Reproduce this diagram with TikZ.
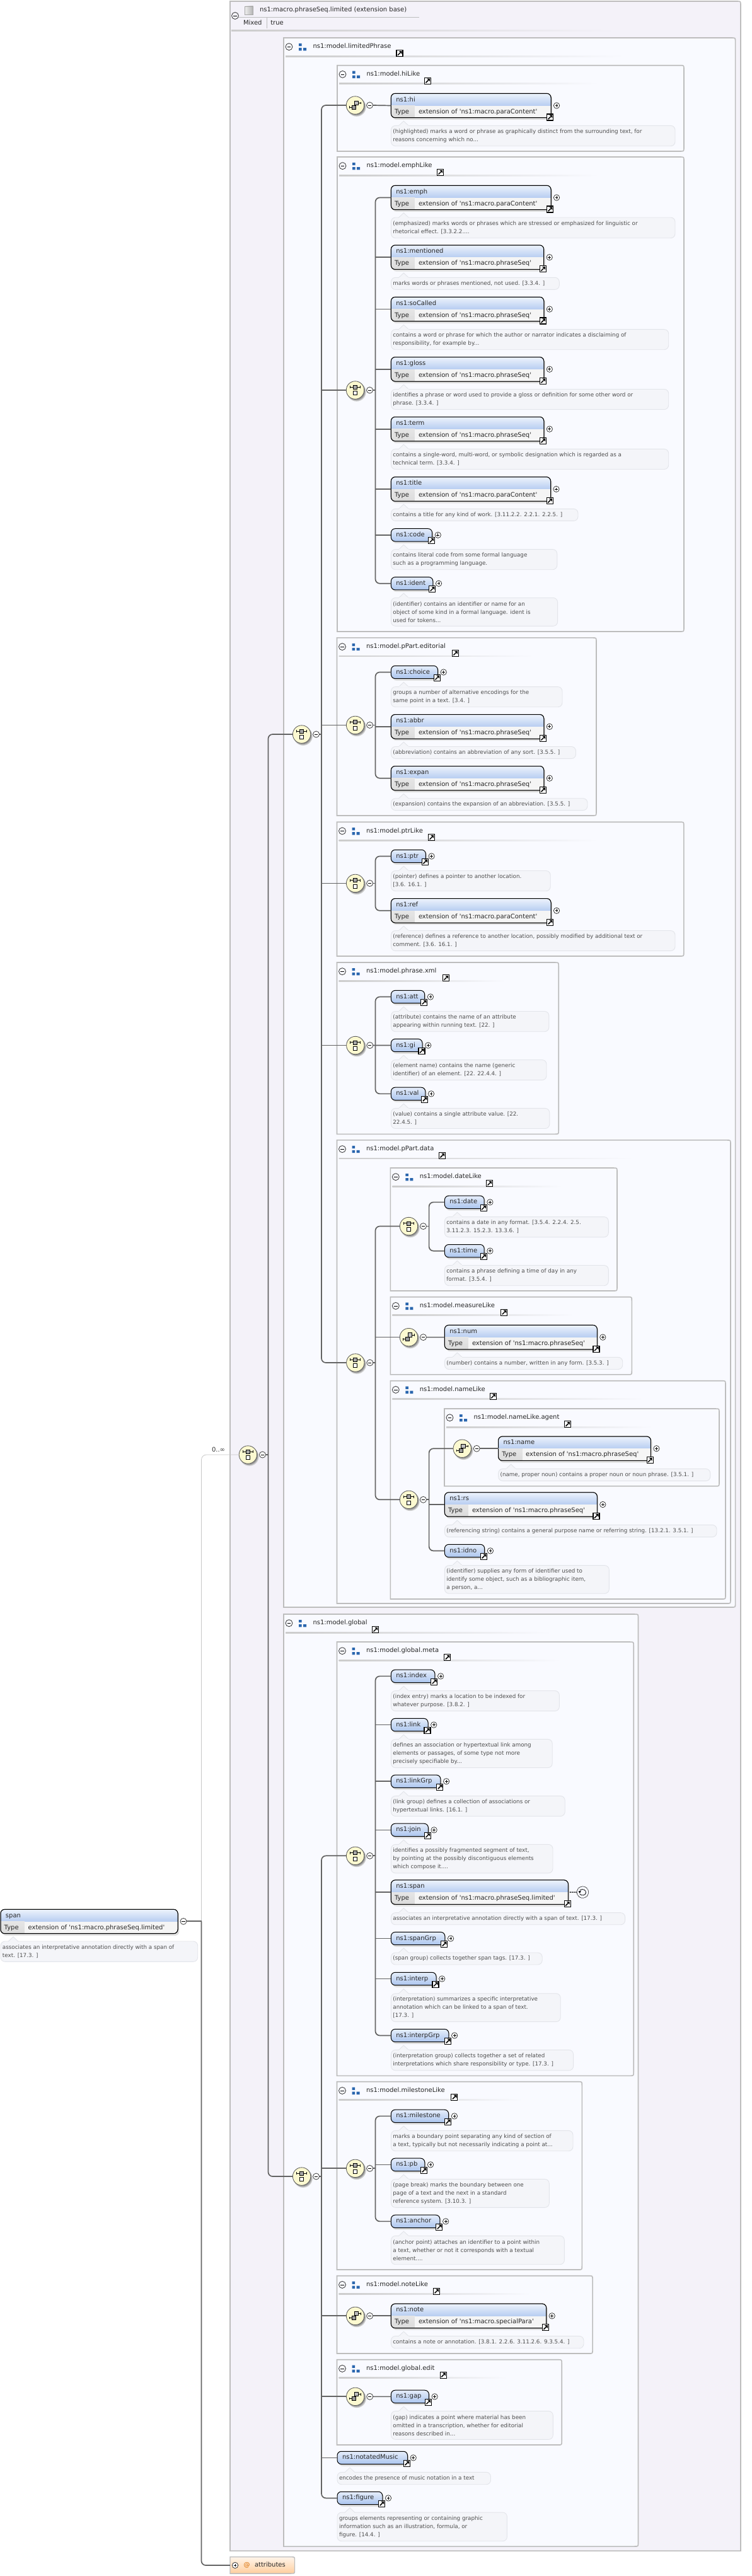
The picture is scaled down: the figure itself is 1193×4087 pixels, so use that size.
\documentclass[tikz,border=0pt]{standalone}
\usepackage{fontspec}
\setmainfont{DejaVu Sans}[Ligatures=TeXOff]
\definecolor{outerFill}{HTML}{F4F2F9}
\definecolor{grpFill}{HTML}{F9FAFF}
\definecolor{grpLine}{HTML}{BDBDBD}
\definecolor{connCol}{HTML}{636363}
\definecolor{hdTop}{HTML}{EDF3FC}
\definecolor{hdBot}{HTML}{B7CDF1}
\definecolor{smTop}{HTML}{E6EEFB}
\definecolor{smBot}{HTML}{ABC5EE}
\definecolor{descFill}{HTML}{F4F5F9}
\definecolor{descLine}{HTML}{E3E5EA}
\definecolor{descText}{HTML}{4D4D4D}
\definecolor{symFill}{HTML}{FCF9D0}
\definecolor{blockCol}{HTML}{2A66AE}
\newcommand\lblfont{\fontsize{10}{13}\selectfont}
\newcommand\dscfont{\fontsize{8.75}{13}\selectfont}
\tikzset{
  cn/.style={draw=connCol,line width=1.7},
  grpbox/.style={draw=grpLine,line width=1.6,fill=grpFill},
  lbl/.style={font=\lblfont,text=black!85,inner sep=0,outer sep=0,anchor=mid west},
  dsc/.style={font=\dscfont,text=descText,inner sep=0,outer sep=0,anchor=west,align=left},
  elembox/.style={rounded corners=6.5,draw=black,line width=1,inner sep=0,outer sep=0},
  bubble/.style={rounded corners=7,draw=descLine,line width=.9,fill=descFill,inner sep=0,outer sep=0},
  plusic/.style={circle,draw=black!85,line width=.7,fill=white,inner sep=0,outer sep=0,minimum size=9.4},
  minusic/.style={circle,draw=black!75,line width=.8,fill=white,inner sep=0,outer sep=0,minimum size=10},
  collic/.style={circle,draw=black!80,line width=.8,inner sep=0,outer sep=0,minimum size=11},
  linkic/.style={draw=black,fill=white,line width=1.1,inner sep=0,outer sep=0,minimum size=10},
  symb/.style={circle,draw=black!65,line width=.8,fill=symFill,inner sep=0,outer sep=0,minimum size=28.4},
}
% link icon: id, x, y
\newcommand\xLink[3]{%
  \node[linkic] (#1) at (#2,#3) {};
  \draw[line width=1.5,black] (#2-3,#3+3) -- (#2+1,#3-1);
  \fill[black] (#2+3.6,#3-3.6) -- (#2-1.2,#3-3.6) -- (#2+3.6,#3+1.2) -- cycle;
}
\newcommand\xPlus[3]{%
  \node[plusic] (#1) at (#2,#3) {};
  \draw[line width=.7,black] (#2-2.4,#3) -- (#2+2.4,#3) (#2,#3-2.4) -- (#2,#3+2.4);
}
\newcommand\xMinus[3]{%
  \node[minusic] (#1) at (#2,#3) {};
  \draw[line width=.8,black] (#2-2.6,#3) -- (#2+2.6,#3);
}
% group: id, title, l, t, r, b, linkx
\newcommand\xG[7]{%
  \path[grpbox] (#3,#4) -- (#5-6,#4) .. controls (#5,#4) .. (#5,#4+6) -- (#5,#6-6) .. controls (#5,#6) .. (#5-6,#6) -- (#3,#6) -- cycle;
  \shade[left color=black!20,right color=grpFill] (#3+3,#4+28.2) rectangle ({#3+3+0.75*(#5-#3)},#4+30);
  \node[collic] (#1-c) at (#3+8.5,#4+14.2) {};
  \draw[line width=.8,black] (#3+5.6,#4+14.2) -- (#3+11.4,#4+14.2);
  \fill[blockCol] (#3+24,#4+9) rectangle (#3+28.5,#4+13.2) (#3+24,#4+16) rectangle (#3+28.5,#4+20.3) (#3+31,#4+16) rectangle (#3+36,#4+20.3);
  \node[lbl] (#1-t) at (#3+46.5,#4+14.2) {#2};
  \xLink{#1-l}{#7}{#4+24.6}
}
% symbols: id, x, y
\newcommand\xDisc[3]{%
  \fill[black!20] (#2+2.2,#3+2.8) circle (15);
  \fill[black!40] (#2+1.6,#3+2) circle (14.2);
  \node[symb] (#1) at (#2,#3) {};
  \xMinus{#1-m}{#2+23}{#3}
}
\newcommand\xSeq[3]{%
  \xDisc{#1}{#2}{#3}
  \draw[line width=.9,black] (#2-8,#3-4.6) -- (#2+8,#3-4.6) (#2-8,#3-6.6) -- (#2-8,#3-2.6) (#2+8,#3-6.6) -- (#2+8,#3-2.6);
  \draw[line width=.8,black,fill=black!35] (#2-3,#3-7.6) rectangle (#2+3,#3-1.6);
  \draw[line width=.8,black,fill=white] (#2-3,#3+1.6) rectangle (#2+3,#3+7.6);
}
\newcommand\xCho[3]{%
  \xDisc{#1}{#2}{#3}
  \draw[line width=.9,black] (#2-9,#3+3.2) -- (#2-3,#3+3.2) (#2+3,#3-3.6) -- (#2+9,#3-3.6) (#2-9,#3+1.4) -- (#2-9,#3+5) (#2+9,#3-5.4) -- (#2+9,#3-1.8);
  \draw[line width=.8,black,fill=black!25] (#2-1.4,#3-6.8) rectangle (#2+4.8,#3-.6);
  \draw[line width=.8,black,fill=black!40] (#2-5.2,#3) rectangle (#2+1,#3+6.2);
}
\def\eL{620.4}
% typed element box alone: id, label, type, top, r
\newcommand\xEB[5]{%
  \fill[black!28,rounded corners=6.5] (\eL+1.4,#4+2.2) rectangle (#5+1.6,#4+40.6);
  \fill[black!12,rounded corners=6.5] (\eL+2,#4+3) rectangle (#5+2.4,#4+41.6);
  \pgfmathsetmacro{\eW}{#5-\eL}
  \node[elembox,fill=white,minimum width=\eW,minimum height=38.4] (#1) at ({(#5+\eL)/2},#4+19.2) {};
  \begin{scope}
    \clip[rounded corners=6.5] (\eL,#4) rectangle (#5,#4+38.4);
    \shade[top color=hdTop,bottom color=hdBot] (\eL,#4) rectangle (#5,#4+19.4);
    \shade[top color=white!90!black,bottom color=black!14] (\eL,#4+19.4) rectangle (\eL+38,#4+38.4);
    \fill[black!4] (\eL+38,#4+19.4) rectangle (#5,#4+38.4);
  \end{scope}
  \draw[black,line width=1,rounded corners=6.5] (\eL,#4) rectangle (#5,#4+38.4);
  \node[lbl] (#1-t) at (\eL+8,#4+10) {#2};
  \node[lbl] (#1-k) at (\eL+5.7,#4+29) {Type};
  \node[lbl] (#1-v) at (\eL+43.6,#4+29) {#3};
}
% typed element with plus and link icons
\newcommand\xET[5]{%
  \xEB{#1}{#2}{#3}{#4}{#5}
  \xPlus{#1-p}{#5+9}{#4+19.2}
  \xLink{#1-l}{#5-1.3}{#4+37.7}
}
% small element: id, label, top, r
\newcommand\xES[4]{%
  \fill[black!28,rounded corners=6.5] (\eL+1.4,#3+2.2) rectangle (#4+1.6,#3+22.5);
  \fill[black!12,rounded corners=6.5] (\eL+2,#3+3) rectangle (#4+2.4,#3+23.5);
  \pgfmathsetmacro{\eW}{#4-\eL}
  \node[elembox,top color=smTop,bottom color=smBot,minimum width=\eW,minimum height=20.3] (#1) at ({(#4+\eL)/2},#3+10.15) {};
  \node[lbl] (#1-t) at (\eL+8,#3+10) {#2};
  \xPlus{#1-p}{#4+9.2}{#3+10.15}
  \xLink{#1-l}{#4-1}{#3+19}
}
% description: id, top, bottom, r, text
\newcommand\xD[5]{%
  \pgfmathsetmacro{\eW}{#4-\eL}
  \pgfmathsetmacro{\eH}{#3-#2}
  \node[bubble,minimum width=\eW,minimum height=\eH] (#1-d) at ({(#4+\eL)/2},{(#2+#3)/2}) {};
  \path[fill=descFill,draw=descLine,line width=.9] (\eL+12,#2+.3) -- (\eL+20,#2-7.2) -- (\eL+28,#2+.3);
  \fill[descFill] (\eL+12.6,#2+.8) rectangle (\eL+27.4,#2-.2);
  \node[dsc] (#1-x) at (\eL+3,{(#2+#3)/2}) {#5};
}
\begin{document}
\begin{tikzpicture}[x=1pt,y=-1pt]
\useasboundingbox (0,0) rectangle (1193,4087);
\fill[white] (0,0) rectangle (1193,4087);
% ---------- outer extension box
\path[draw=grpLine,line width=1.6,fill=outerFill] (365,2) -- (1169,2) .. controls (1175,2) .. (1175,8) -- (1175,4047) -- (365,4047) -- cycle;
\node[collic] (base-c) at (373,25) {};
\draw[line width=.8,black] (370,25) -- (376,25);
\draw[draw=black!35,line width=.9,left color=black!6,right color=black!30] (388.3,10) rectangle (401.5,23);
\node[lbl] (base-t) at (412,16) {ns1:macro.phraseSeq.limited (extension base)};
\draw[grpLine,line width=.9] (378,27.7) -- (665,27.7);
\node[lbl] (base-k) at (386,36.3) {Mixed};
\draw[grpLine,line width=.7] (423.3,28) -- (423.3,45);
\node[lbl] (base-v) at (429.3,36.3) {true};
\shade[left color=black!20,right color=outerFill] (367,48) rectangle (976,50);
% ---------- groups
\xG{gLP}{ns1:model.limitedPhrase}{450}{60}{1166.6}{2550}{634}
\xG{gHi}{ns1:model.hiLike}{535}{103.7}{1085}{240}{678.5}
\xG{gEm}{ns1:model.emphLike}{535}{249}{1085}{1002}{698.5}
\xG{gEd}{ns1:model.pPart.editorial}{534.5}{1011.9}{946}{1294}{722.3}
\xG{gPt}{ns1:model.ptrLike}{534.5}{1304.2}{1084.8}{1517}{684.5}
\xG{gXm}{ns1:model.phrase.xml}{534.5}{1527}{886.2}{1799.3}{707.5}
\xG{gDa}{ns1:model.pPart.data}{534.5}{1808.9}{1159}{2544}{701.5}
\xG{gDt}{ns1:model.dateLike}{619.3}{1853}{979}{2048}{776.5}
\xG{gMs}{ns1:model.measureLike}{619.3}{2057.7}{1002.3}{2180.9}{799.8}
\xG{gNm}{ns1:model.nameLike}{619.3}{2190.7}{1151}{2537}{782.3}
\xG{gAg}{ns1:model.nameLike.agent}{705}{2235}{1141}{2357.9}{900.6}
\xG{gGl}{ns1:model.global}{450}{2561}{1012.5}{4040}{595.5}
\xG{gMe}{ns1:model.global.meta}{534.5}{2605}{1005.2}{3293.3}{709.8}
\xG{gMi}{ns1:model.milestoneLike}{534.5}{3302.7}{923.3}{3601}{720.9}
\xG{gNo}{ns1:model.noteLike}{534.5}{3610.7}{940.1}{3734}{692.5}
\xG{gEt}{ns1:model.global.edit}{534.5}{3743.7}{891.2}{3879}{703.2}
% ---------- root element
\def\eL{1}
\xEB{rootspan}{span}{extension of 'ns1:macro.phraseSeq.limited'}{3029.3}{282}
\xD{rootspan}{3080}{3112.3}{313.7}{associates an interpretative annotation directly with a span of\\text. [17.3. ]}
\xMinus{rootspan-m}{291}{3048.3}
% ---------- symbols
\xSeq{sRoot}{393.4}{2308}
\xSeq{sLP}{478.6}{1165}
\xSeq{sGL}{478.6}{3453}
\xCho{sHi}{563.5}{167}
\xSeq{sEm}{563.5}{619}
\xSeq{sEd}{563.6}{1150.4}
\xSeq{sPt}{563.6}{1401.4}
\xSeq{sXm}{563.8}{1658.5}
\xSeq{sDa}{563.8}{2162}
\xSeq{sDt}{648.5}{1945.5}
\xCho{sMs}{648.5}{2121.6}
\xSeq{sNm}{648.5}{2379.3}
\xCho{sAg}{733.2}{2298.2}
\xSeq{sMe}{563.6}{2944.3}
\xSeq{sMi}{563.6}{3440.3}
\xCho{sNo}{563.6}{3674.3}
\xCho{sEt}{563.7}{3802.3}
% ---------- elements: hiLike, emphLike
\def\eL{620.4}
\xET{hi}{ns1:hi}{extension of 'ns1:macro.paraContent'}{148.3}{874}
\xD{hi}{199.3}{231.7}{1071}{(highlighted) marks a word or phrase as graphically distinct from the surrounding text, for\\reasons concerning which no...}
\xET{emph}{ns1:emph}{extension of 'ns1:macro.paraContent'}{294.3}{874}
\xD{emph}{345}{377.7}{1071}{(emphasized) marks words or phrases which are stressed or emphasized for linguistic or\\rhetorical effect. [3.3.2.2....}
\xET{mentioned}{ns1:mentioned}{extension of 'ns1:macro.phraseSeq'}{389}{862.7}
\xD{mentioned}{440.3}{459.4}{887.3}{marks words or phrases mentioned, not used. [3.3.4. ]}
\xET{soCalled}{ns1:soCalled}{extension of 'ns1:macro.phraseSeq'}{471.3}{862.8}
\xD{soCalled}{522.6}{554.7}{1060.7}{contains a word or phrase for which the author or narrator indicates a disclaiming of\\responsibility, for example by...}
\xET{gloss}{ns1:gloss}{extension of 'ns1:macro.phraseSeq'}{566.6}{862.8}
\xD{gloss}{617.5}{649.6}{1060.7}{identifies a phrase or word used to provide a gloss or definition for some other word or\\phrase. [3.3.4. ]}
\xET{term}{ns1:term}{extension of 'ns1:macro.phraseSeq'}{661.5}{862.8}
\xD{term}{712.4}{744.5}{1060.7}{contains a single-word, multi-word, or symbolic designation which is regarded as a\\technical term. [3.3.4. ]}
\xET{title}{ns1:title}{extension of 'ns1:macro.paraContent'}{756.8}{873.5}
\xD{title}{807.3}{826.4}{917}{contains a title for any kind of work. [3.11.2.2. 2.2.1. 2.2.5. ]}
\xES{code}{ns1:code}{838.7}{685.6}
\xD{code}{871.6}{903.7}{883.8}{contains literal code from some formal language\\such as a programming language.}
\xES{ident}{ns1:ident}{915.6}{686.8}
\xD{ident}{948.5}{993.3}{884.6}{(identifier) contains an identifier or name for an\\object of some kind in a formal language. ident is\\used for tokens...}
% editorial
\xES{choice}{ns1:choice}{1056.3}{694.5}
\xD{choice}{1089.6}{1121.7}{892}{groups a number of alternative encodings for the\\same point in a text. [3.4. ]}
\xET{abbr}{ns1:abbr}{extension of 'ns1:macro.phraseSeq'}{1133.6}{862.8}
\xD{abbr}{1184.5}{1203.6}{913.5}{(abbreviation) contains an abbreviation of any sort. [3.5.5. ]}
\xET{expan}{ns1:expan}{extension of 'ns1:macro.phraseSeq'}{1215.5}{862.8}
\xD{expan}{1266.7}{1285.6}{932}{(expansion) contains the expansion of an abbreviation. [3.5.5. ]}
% ptr
\xES{ptr}{ns1:ptr}{1348.3}{675.4}
\xD{ptr}{1381.5}{1413.7}{873.2}{(pointer) defines a pointer to another location.\\{}[3.6. 16.1. ]}
\xET{ref}{ns1:ref}{extension of 'ns1:macro.paraContent'}{1425.6}{874}
\xD{ref}{1476.5}{1508.6}{1071}{(reference) defines a reference to another location, possibly modified by additional text or\\comment. [3.6. 16.1. ]}
% xml
\xES{att}{ns1:att}{1571.4}{673.7}
\xD{att}{1604.5}{1636.7}{870.9}{(attribute) contains the name of an attribute\\appearing within running text. [22. ]}
\xES{gi}{ns1:gi}{1648.4}{670}
\xD{gi}{1681.5}{1713.6}{867}{(element name) contains the name (generic\\identifier) of an element. [22. 22.4.4. ]}
\xES{val}{ns1:val}{1725.2}{674.8}
\xD{val}{1758.4}{1790.5}{871.8}{(value) contains a single attribute value. [22.\\22.4.5. ]}
% date, measure, name
\def\eL{705.4}
\xES{date}{ns1:date}{1897.2}{768.2}
\xD{date}{1930.6}{1962.8}{965.3}{contains a date in any format. [3.5.4. 2.2.4. 2.5.\\3.11.2.3. 15.2.3. 13.3.6. ]}
\xES{time}{ns1:time}{1974.5}{768.2}
\xD{time}{2007.5}{2039.7}{965.3}{contains a phrase defining a time of day in any\\format. [3.5.4. ]}
\xET{num}{ns1:num}{extension of 'ns1:macro.phraseSeq'}{2102.4}{947.3}
\xD{num}{2153.3}{2172.5}{987.7}{(number) contains a number, written in any form. [3.5.3. ]}
\xET{rs}{ns1:rs}{extension of 'ns1:macro.phraseSeq'}{2367.8}{947.3}
\xD{rs}{2419.3}{2438.6}{1137}{(referencing string) contains a general purpose name or referring string. [13.2.1. 3.5.1. ]}
\xES{idno}{ns1:idno}{2450.3}{768.7}
\xD{idno}{2483.6}{2528.2}{966.3}{(identifier) supplies any form of identifier used to\\identify some object, such as a bibliographic item,\\a person, a...}
\def\eL{790.6}
\xET{name}{ns1:name}{extension of 'ns1:macro.phraseSeq'}{2279}{1032.4}
\xD{name}{2330.4}{2349.6}{1126.8}{(name, proper noun) contains a proper noun or noun phrase. [3.5.1. ]}
% global.meta
\def\eL{620.4}
\xES{index}{ns1:index}{2649.2}{689.9}
\xD{index}{2682.5}{2714.6}{887.4}{(index entry) marks a location to be indexed for\\whatever purpose. [3.8.2. ]}
\xES{link}{ns1:link}{2726.4}{679}
\xD{link}{2759.4}{2804.6}{876.2}{defines an association or hypertextual link among\\elements or passages, of some type not more\\precisely specifiable by...}
\xES{linkGrp}{ns1:linkGrp}{2816.1}{698.9}
\xD{linkGrp}{2849.4}{2881.5}{896.2}{(link group) defines a collection of associations or\\hypertextual links. [16.1. ]}
\xES{join}{ns1:join}{2893.2}{679.4}
\xD{join}{2926.3}{2971.8}{877}{identifies a possibly fragmented segment of text,\\by pointing at the possibly discontiguous elements\\which compose it....}
\xEB{span}{ns1:span}{extension of 'ns1:macro.phraseSeq.limited'}{2982.9}{901.4}
\xLink{span-l}{900.1}{3020.6}
\xD{span}{3034.6}{3053.7}{991.6}{associates an interpretative annotation directly with a span of text. [17.3. ]}
\xES{spanGrp}{ns1:spanGrp}{3065.4}{705.8}
\xD{spanGrp}{3098}{3117}{860.2}{(span group) collects together span tags. [17.3. ]}
\xES{interp}{ns1:interp}{3129.3}{692}
\xD{interp}{3162.8}{3207.6}{889.2}{(interpretation) summarizes a specific interpretative\\annotation which can be linked to a span of text.\\{}[17.3. ]}
\xES{interpGrp}{ns1:interpGrp}{3219.3}{711.9}
\xD{interpGrp}{3252.3}{3284.9}{909.6}{(interpretation group) collects together a set of related\\interpretations which share responsibility or type. [17.3. ]}
% milestone
\xES{milestone}{ns1:milestone}{3347.2}{711.7}
\xD{milestone}{3380.3}{3412.7}{909}{marks a boundary point separating any kind of section of\\a text, typically but not necessarily indicating a point at...}
\xES{pb}{ns1:pb}{3424.2}{673.8}
\xD{pb}{3457.3}{3502.3}{871.3}{(page break) marks the boundary between one\\page of a text and the next in a standard\\reference system. [3.10.3. ]}
\xES{anchor}{ns1:anchor}{3514.2}{697.9}
\xD{anchor}{3547.3}{3592.7}{895.4}{(anchor point) attaches an identifier to a point within\\a text, whether or not it corresponds with a textual\\element....}
\xET{note}{ns1:note}{extension of 'ns1:macro.specialPara'}{3655.1}{866.7}
\xD{note}{3706.3}{3725.7}{926}{contains a note or annotation. [3.8.1. 2.2.6. 3.11.2.6. 9.3.5.4. ]}
\xES{gap}{ns1:gap}{3792.2}{680.4}
\xD{gap}{3825.3}{3870.3}{877.3}{(gap) indicates a point where material has been\\omitted in a transcription, whether for editorial\\reasons described in...}
\def\eL{535}
\xES{notatedMusic}{ns1:notatedMusic}{3889.2}{646.5}
\xD{notatedMusic}{3922.3}{3941.7}{778.5}{encodes the presence of music notation in a text}
\xES{figure}{ns1:figure}{3953.2}{606.8}
\xD{figure}{3986}{4031.7}{804.4}{groups elements representing or containing graphic\\information such as an illustration, formula, or\\figure. [14.4. ]}
% ---------- attributes
\path[draw=grpLine,line width=1.4,top color=white!92!orange,bottom color=orange!38!white] (365,4056.7) -- (462,4056.7) .. controls (467.5,4056.7) .. (467.5,4062) -- (467.5,4078) .. controls (467.5,4083) .. (462,4083) -- (365,4083) -- cycle;
\coordinate (attr-w) at (365,4070);
\xPlus{attr-p}{373}{4070}
\node[lbl,text=orange!85!black] (attr-a) at (386.5,4070) {@};
\node[lbl] (attr-t) at (404,4070) {attributes};
% ---------- trunks
\coordinate (tR) at (319.5,3048.3);
\coordinate (tA) at (425.5,2308);
\coordinate (tLP) at (510,1165);
\coordinate (tGL) at (510,3453);
\coordinate (tEm) at (595.5,619);
\coordinate (tEd) at (595.5,1150.4);
\coordinate (tPt) at (595.5,1401.4);
\coordinate (tXm) at (595.5,1658.5);
\coordinate (tDa) at (595.5,2162);
\coordinate (tDt) at (680.6,1945.5);
\coordinate (tNm) at (680.6,2379.3);
\coordinate (tMe) at (595.5,2944.3);
\coordinate (tMi) at (595.5,3440.3);
% root
\draw[draw=black!22,line width=.8,rounded corners=8] (sRoot.west) -| (tR);
\draw[cn] (rootspan-m.east) -- (tR);
\draw[cn,rounded corners=7] (tR) |- (attr-w);
\draw[cn,rounded corners=7] (sLP.west) -| (tA) |- (sGL.west);
\draw[cn] (sRoot-m.east) -- (tA);
% limitedPhrase
\draw[cn,rounded corners=7] (sHi.west) -| (tLP) |- (sDa.west);
\draw[cn] (sLP-m.east) -- (tLP);
\foreach \s in {sEm,sEd,sPt,sXm}{\draw[cn] (tLP |- \s.west) -- (\s.west);}
\draw[cn] (sHi-m.east) -- (hi.west);
% emph
\draw[cn,rounded corners=7] (emph.west) -| (tEm) |- (ident.west);
\draw[cn] (sEm-m.east) -- (tEm);
\foreach \s in {mentioned,soCalled,gloss,term,title,code}{\draw[cn] (tEm |- \s.west) -- (\s.west);}
% editorial
\draw[cn,rounded corners=7] (choice.west) -| (tEd) |- (expan.west);
\draw[cn] (sEd-m.east) -- (tEd);
\draw[cn] (tEd |- abbr.west) -- (abbr.west);
% ptr
\draw[cn,rounded corners=7] (ptr.west) -| (tPt) |- (ref.west);
\draw[cn] (sPt-m.east) -- (tPt);
% xml
\draw[cn,rounded corners=7] (att.west) -| (tXm) |- (val.west);
\draw[cn] (sXm-m.east) -- (gi.west);
% data
\draw[cn,rounded corners=7] (sDt.west) -| (tDa) |- (sNm.west);
\draw[cn] (sDa-m.east) -- (tDa);
\draw[cn] (tDa |- sMs.west) -- (sMs.west);
\draw[cn,rounded corners=7] (date.west) -| (tDt) |- (time.west);
\draw[cn] (sDt-m.east) -- (tDt);
\draw[cn] (sMs-m.east) -- (num.west);
\draw[cn,rounded corners=7] (sAg.west) -| (tNm) |- (idno.west);
\draw[cn] (sNm-m.east) -- (tNm);
\draw[cn] (tNm |- rs.west) -- (rs.west);
\draw[cn] (sAg-m.east) -- (name.west);
% global
\draw[cn,rounded corners=7] (sMe.west) -| (tGL) |- (figure.west);
\draw[cn] (sGL-m.east) -- (tGL);
\foreach \s in {sMi,sNo,sEt,notatedMusic}{\draw[cn] (tGL |- \s.west) -- (\s.west);}
\draw[cn,rounded corners=7] (index.west) -| (tMe) |- (interpGrp.west);
\draw[cn] (sMe-m.east) -- (tMe);
\foreach \s in {link,linkGrp,join,span,spanGrp,interp}{\draw[cn] (tMe |- \s.west) -- (\s.west);}
\draw[cn,rounded corners=7] (milestone.west) -| (tMi) |- (anchor.west);
\draw[cn] (sMi-m.east) -- (tMi);
\draw[cn] (tMi |- pb.west) -- (pb.west);
\draw[cn] (sNo-m.east) -- (note.west);
\draw[cn] (sEt-m.east) -- (gap.west);
% recursion marker on span
\node[circle,draw=black,line width=.8,dash pattern=on 1.4pt off .9pt,inner sep=0,outer sep=0,minimum size=18.5] (span-rec) at (924.4,3002.1) {};
\draw[line width=.8,black] (920.2,2998.8) .. controls (924.8,2995.6) and (930,2999) .. (929.4,3003) .. controls (929,3007) and (923,3008.5) .. (919.8,3005);
\fill[black] (917.6,3000.6) -- (921.8,2999.8) -- (919.8,3004) -- cycle;
\draw[black,line width=1.3,dash pattern=on 1.6pt off 1.4pt,shorten <=2.5] (span.east) -- (span-rec.west);
% ---------- cardinality
\node[lbl,text=black!80] (card) at (336,2301) {0..∞};
\end{tikzpicture}
\end{document}
